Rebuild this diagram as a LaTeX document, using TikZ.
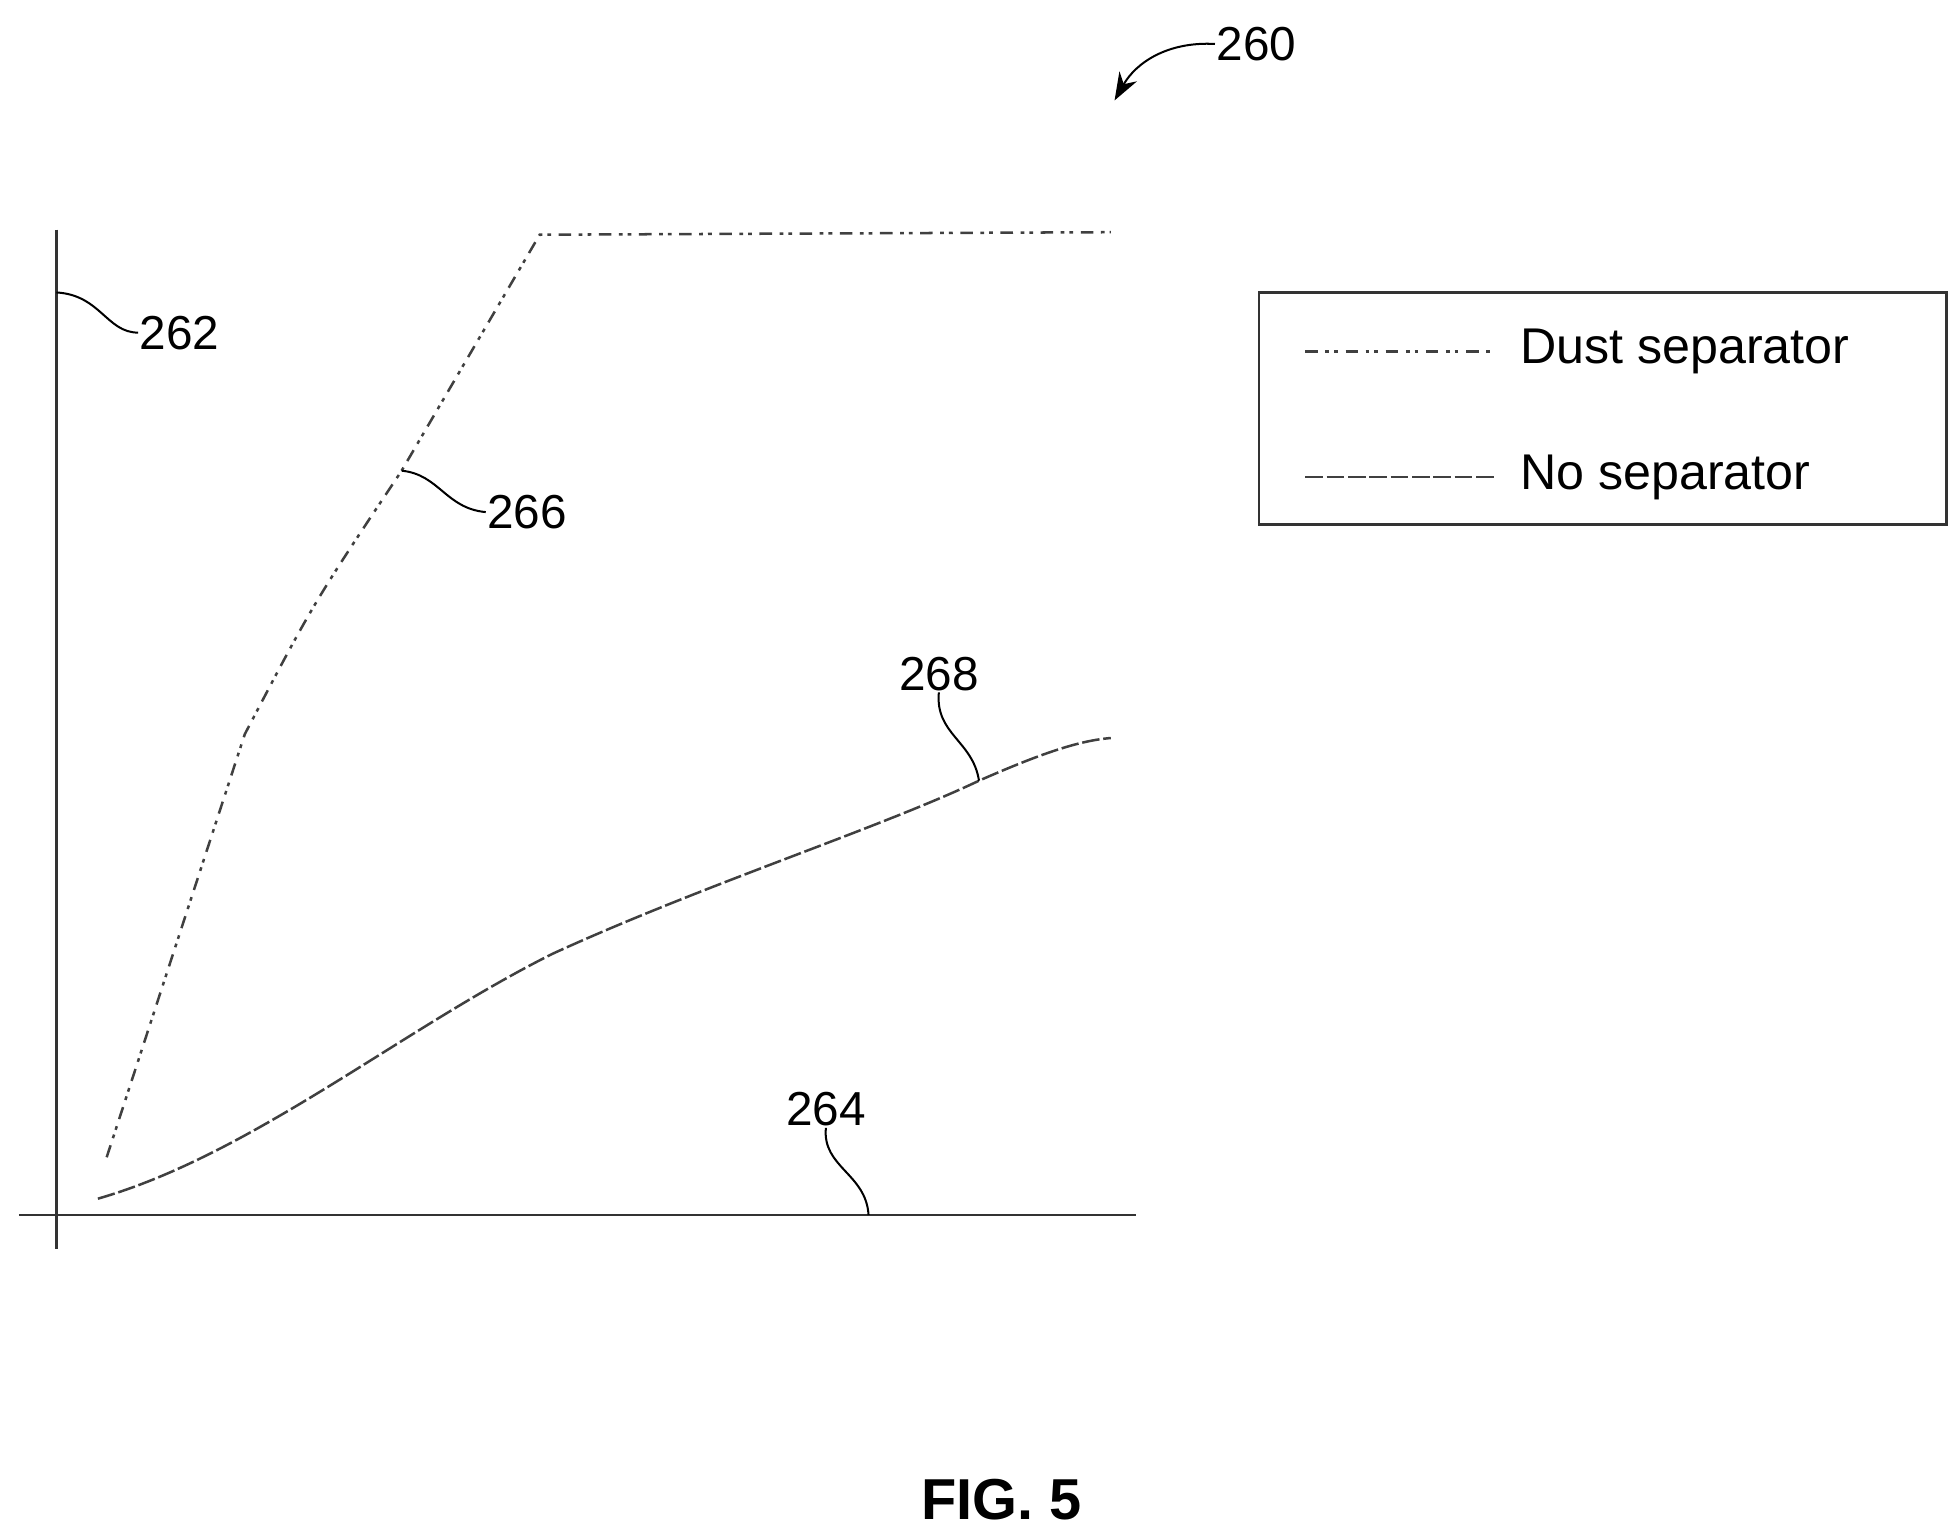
\documentclass[tikz,border=0pt]{standalone}
\usepackage{fontspec}
\setmainfont{Liberation Sans}
\usetikzlibrary{arrows.meta}
\begin{document}
\begin{tikzpicture}[x=1pt,y=-1pt,
  ax/.style={line width=2pt,black!80},
  dustl/.style={line width=2pt,black!75,dash pattern=on 10pt off 6pt on 3pt off 4pt on 3pt off 6pt},
  nosep/.style={line width=2pt,black!75,dash pattern=on 14pt off 3pt},
  lead/.style={line width=1.6pt},
  lbl/.style={font=\fontsize{38}{40}\selectfont,inner sep=1pt}]
\useasboundingbox (0,0) rectangle (1560,1224);
% axes
\coordinate (ytop) at (45,183); \coordinate (ybot) at (45,995);
\coordinate (xl) at (15,968); \coordinate (xr) at (905,968);
\draw[ax] (ytop) -- (ybot);
\draw[ax] (xl) -- (xr);
% curves
\coordinate (d0) at (85,922); \coordinate (d1) at (195,585); \coordinate (d2) at (320,375);
\coordinate (d3) at (430,187); \coordinate (d4) at (885,185);
\draw[dustl] (d0) -- (d1) .. controls (250,480) .. (d2) -- (d3) -- (d4);
\coordinate (n0) at (78,955); \coordinate (n6) at (780,622);
\draw[nosep] (n0) .. controls (200,920) and (320,820) .. (440,760)
  .. controls (560,705) and (700,660) .. (n6) .. controls (830,600) and (860,590) .. (885,588);
% labels
\node[lbl,anchor=west] (l262) at (110,265) {262};
\draw[lead] (45,233) .. controls (80,235) and (85,265) .. (l262.west);
\node[lbl,anchor=west] (l266) at (387,408) {266};
\draw[lead] (d2) .. controls (350,378) and (355,405) .. (l266.west);
\node[lbl] (l268) at (748,537) {268};
\draw[lead] (l268.south) .. controls (745,585) and (775,590) .. (n6);
\node[lbl] (l264) at (658,884) {264};
\coordinate (a264) at (692,968);
\draw[lead] (l264.south) .. controls (655,930) and (690,935) .. (a264);
\node[lbl,anchor=west] (l260) at (968,35) {260};
\coordinate (a260) at (888,80);
\draw[lead,-{Stealth[length=22pt,width=16pt]}] (l260.west) .. controls (930,33) and (905,50) .. (a260);
% legend
\node[draw,line width=2pt,black!80,minimum width=548pt,minimum height=185pt,anchor=north west] (leg) at (1002,232) {};
\coordinate (la) at (1040,280); \coordinate (lb) at (1190,280);
\coordinate (lc) at (1040,380); \coordinate (ld) at (1190,380);
\draw[dustl] (la) -- (lb);
\draw[nosep] (lc) -- (ld);
\node[lbl,anchor=west,font=\fontsize{40}{42}\selectfont] (t1) at (1210,280) {Dust separator};
\node[lbl,anchor=west,font=\fontsize{40}{42}\selectfont] (t2) at (1210,380) {No separator};
\node[font=\bfseries\fontsize{46}{48}\selectfont] (fig) at (798,1195) {FIG. 5};
\end{tikzpicture}
\end{document}
